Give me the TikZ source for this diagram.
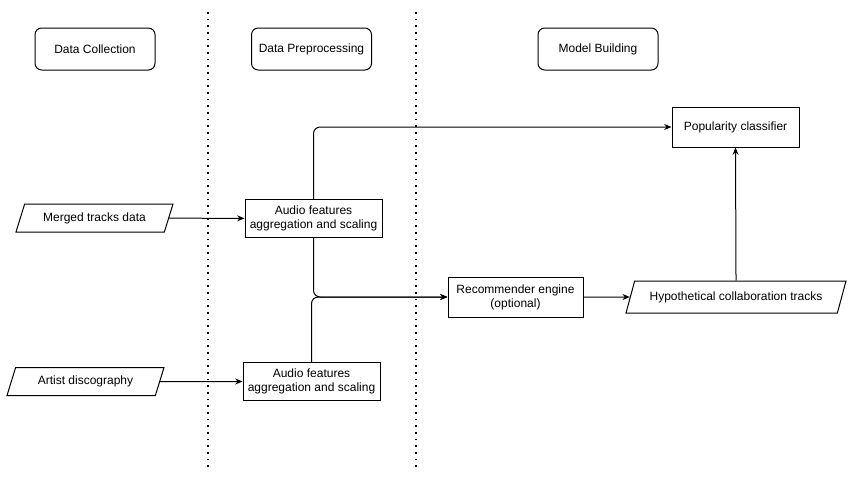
\documentclass[tikz,border=0pt]{standalone}
\usepackage{xcolor}
\usepackage{fontspec}
\setmainfont{Liberation Sans}
\usepackage{tikz}
\tikzstyle{phase} = [rectangle, draw, text centered, rounded corners=5pt,
    minimum width=90pt, minimum height=31.5pt]
\tikzstyle{block} = [rectangle, draw, text centered, align=center,
    inner sep=1pt, minimum height=28pt]
\tikzstyle{data} = [trapezium, draw, trapezium left angle=58, trapezium right angle=122,
    trapezium stretches body, text centered, inner sep=1pt, minimum height=21pt]
\tikzstyle{flow} = [-{Stealth[length=5.5pt,width=4.5pt]}]
\tikzstyle{lane} = [line width=1.2pt, dash pattern=on 1.2pt off 3.8pt]
\usetikzlibrary{calc}
\usetikzlibrary{arrows.meta}
\usetikzlibrary{positioning}
\usetikzlibrary{shapes.geometric}

\begin{document}
\begin{tikzpicture}[x=0.75pt, y=-0.75pt, line width=0.75pt, font=\fontsize{9}{10.5}\selectfont]
    \useasboundingbox (0,0) rectangle (863,482);

    % phase headers
    \node[phase] (collect) at (95,49) {Data Collection};
    \node[phase] (preproc) at (311.5,49) {Data Preprocessing};
    \node[phase] (modelb) at (598,49) {Model Building};

    % lane separators
    \coordinate (laneAtop) at (208,12);
    \coordinate (laneAbot) at (208,470);
    \coordinate (laneBtop) at (416,12);
    \coordinate (laneBbot) at (416,470);
    \draw[lane] (laneAtop) -- (laneAbot);
    \draw[lane] (laneBtop) -- (laneBbot);

    \node[data, minimum width=117.75pt] (merged) at (94.5,218) {Merged tracks data};
    \node[data, minimum width=117.75pt] (discog) at (85.5,381.5) {Artist discography};

    \node[block, minimum width=102.75pt] (featA) at (313.5,218.5) {Audio features\\aggregation and scaling};
    \node[block, minimum width=102.75pt] (featB) at (311.5,381.5) {Audio features\\aggregation and scaling};

    \node[block, minimum width=101.25pt, minimum height=30pt] (recom) at (515.5,297) {Recommender engine\\(optional)};
    \node[block, minimum width=95.25pt, minimum height=30pt] (popclf) at (735.5,127) {Popularity classifier};
    \node[data, minimum width=165pt, minimum height=24pt] (hypo) at (736,297) {Hypothetical collaboration tracks};

    \draw[flow] (merged) -- (featA);
    \draw[flow] (discog) -- (featB);
    \draw[flow, rounded corners=5pt] (featA.north) |- (popclf.west);
    \draw[flow, rounded corners=5pt] (featA.south) |- (recom.west);
    \draw[flow, rounded corners=5pt] (featB.north) |- (recom.west);
    \draw[flow] (recom) -- (hypo);
    \draw[flow] (hypo.north) -- (popclf.south);
  \end{tikzpicture}
\end{document}
